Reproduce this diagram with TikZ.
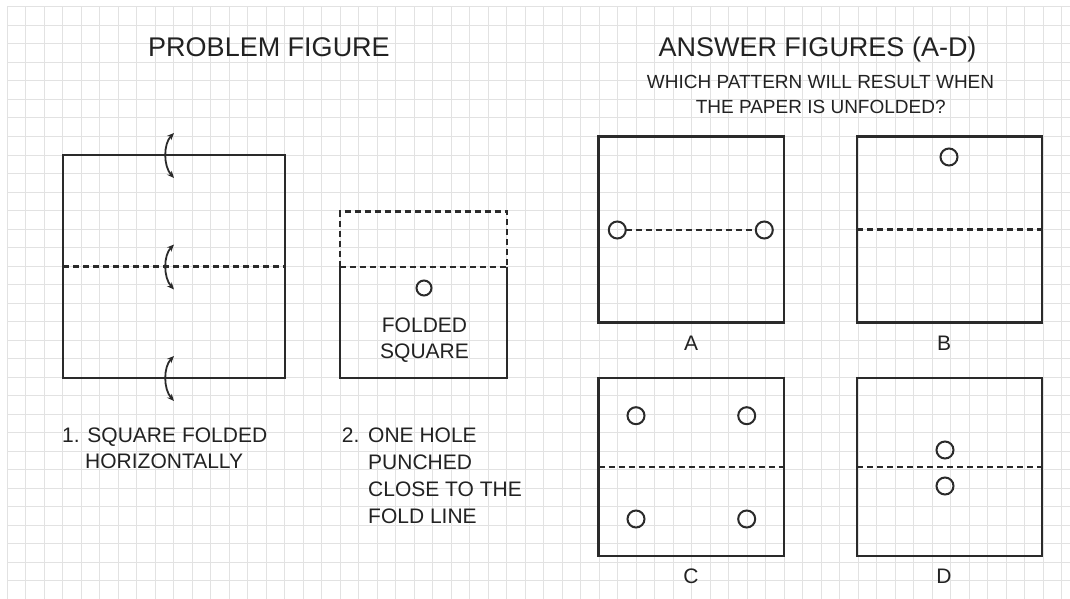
\documentclass[tikz,border=0pt]{standalone}
\usepackage{fontspec}
\setmainfont{Liberation Sans}
\usetikzlibrary{arrows.meta}
\definecolor{ink}{HTML}{2A2A2A}
\definecolor{txt}{HTML}{222222}
\definecolor{gridc}{HTML}{E2E2E2}
\tikzset{
  paper/.style={draw=ink, line width=2.4pt, line join=miter},
  box/.style={rectangle, draw=ink, line width=2.4pt, inner sep=0pt, outer sep=0pt},
  blank/.style={rectangle, inner sep=0pt, outer sep=0pt},
  fold/.style={draw=ink, line width=2.1pt, dash pattern=on 6pt off 4pt},
  hole/.style={circle, draw=ink, line width=2pt, minimum size=17pt, inner sep=0pt, outer sep=0pt},
  smallhole/.style={hole, minimum size=15pt},
  turn/.style={draw=ink, line width=1.8pt, {Stealth[length=7pt,width=6pt]}-{Stealth[length=7pt,width=6pt]}},
  title/.style={text=txt, font=\fontsize{27}{32}\selectfont, inner sep=0pt},
  sub/.style={text=txt, font=\fontsize{19}{23}\selectfont, inner sep=0pt},
  lbl/.style={text=txt, font=\fontsize{21}{25}\selectfont, inner sep=0pt},
}
\begin{document}
\begin{tikzpicture}[x=1pt,y=-1pt]
\useasboundingbox (0,0) rectangle (1070,599);
\fill[white] (0,0) rectangle (1070,599);
% grid
\foreach \i in {0,...,57} \draw[gridc, line width=1pt] ({7+18.5*\i},7) -- ({7+18.5*\i},599);
\foreach \j in {0,...,31} \draw[gridc, line width=1pt] (7,{7+18.5*\j}) -- (1070,{7+18.5*\j});

% titles
\node[title, anchor=base] (t1) at (269,57) {PROBLEM FIGURE};
\node[title, anchor=base] (t2) at (817.5,57) {ANSWER FIGURES (A-D)};
\node[sub, anchor=base] (q1) at (820.5,88.3) {WHICH PATTERN WILL RESULT WHEN};
\node[sub, anchor=base] (q2) at (820.7,113.3) {THE PAPER IS UNFOLDED?};

% problem figure 1: big square
\node[box, minimum width=222pt, minimum height=223pt] (big) at (174,266.5) {};
\draw[fold] (big.west) -- (big.east);
\foreach \k/\yy in {1/155,2/266.5,3/378}{
  \coordinate (ts\k) at (174,{\yy+23});
  \coordinate (te\k) at (174,{\yy-22});
  \draw[turn] (ts\k) .. controls (163.3,{\yy+11}) and (163.3,{\yy-11}) .. (te\k);
}
\node[lbl, anchor=base west] (s1a) at (62,442) {1. SQUARE FOLDED};
\node[lbl, anchor=base west] (s1b) at (85,468) {HORIZONTALLY};

% problem figure 2: folded square
\node[blank, minimum width=167pt, minimum height=111pt] (fsq) at (423.5,322.5) {};
\node[blank, minimum width=167pt, minimum height=55.5pt] (flap) at (423.5,239.25) {};
\draw[paper] (fsq.north west) -- (fsq.south west) -- (fsq.south east) -- (fsq.north east);
\draw[fold] (fsq.north west) -- (fsq.north east);
\draw[fold] (flap.south west) -- (flap.north west) -- (flap.north east) -- (flap.south east);
\node[smallhole] (ph) at (424,288) {};
\node[lbl, anchor=base] (f1) at (424.5,332) {FOLDED};
\node[lbl, anchor=base] (f2) at (424.5,358) {SQUARE};
\node[lbl, anchor=base west] (s2n) at (341.7,442) {2.};
\node[lbl, anchor=base west] (s2a) at (368,442) {ONE HOLE};
\node[lbl, anchor=base west] (s2b) at (368,469) {PUNCHED};
\node[lbl, anchor=base west] (s2c) at (368,496) {CLOSE TO THE};
\node[lbl, anchor=base west] (s2d) at (368,523) {FOLD LINE};

% answer A
\node[box, minimum width=185.5pt, minimum height=186pt] (boxA) at (691.25,229.5) {};
\node[hole] (a1) at (617.3,230) {};
\node[hole] (a2) at (764.3,230) {};
\draw[fold] (a1) -- (a2);
\node[lbl, anchor=base] (la) at (691,350) {A};

% answer B
\node[box, minimum width=185pt, minimum height=186pt] (boxB) at (949.5,229.5) {};
\draw[fold] (boxB.west) -- (boxB.east);
\node[hole] (b1) at (949,157) {};
\node[lbl, anchor=base] (lb) at (944,350) {B};

% answer C
\node[box, minimum width=185.5pt, minimum height=178pt] (boxC) at (691.25,467) {};
\draw[fold] (boxC.west) -- (boxC.east);
\node[hole] (c1) at (636,415.7) {};
\node[hole] (c2) at (746.7,415.7) {};
\node[hole] (c3) at (636,519) {};
\node[hole] (c4) at (746.7,519) {};
\node[lbl, anchor=base] (lc) at (691,583) {C};

% answer D
\node[box, minimum width=185pt, minimum height=178pt] (boxD) at (949.5,467) {};
\draw[fold] (boxD.west) -- (boxD.east);
\node[hole] (d1) at (945,450) {};
\node[hole] (d2) at (945,486) {};
\node[lbl, anchor=base] (ld) at (944,583) {D};
\end{tikzpicture}
\end{document}
